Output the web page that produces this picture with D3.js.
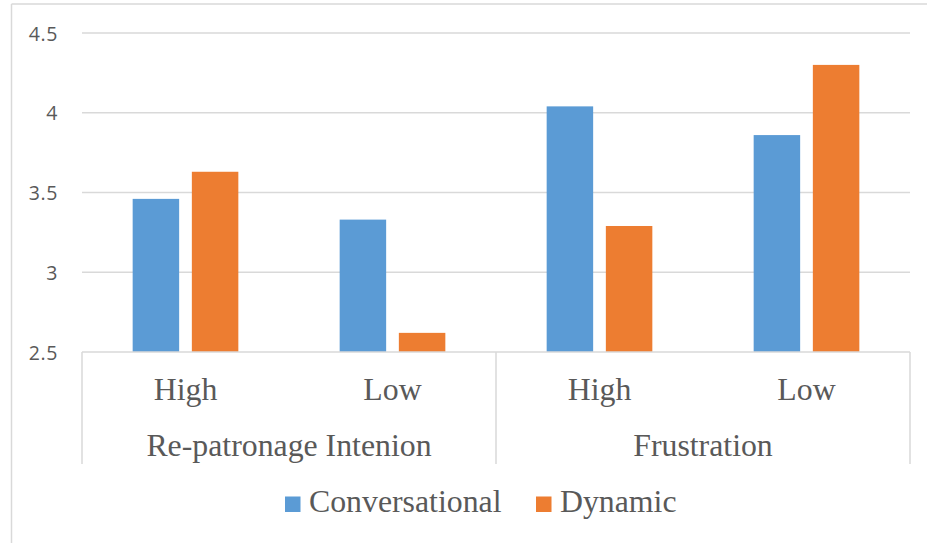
<!DOCTYPE html>
<html>
<head>
<meta charset="utf-8">
<script src="https://cdn.jsdelivr.net/npm/d3@7"></script>
<style>
  html, body { margin: 0; padding: 0; background: #fff; }
  svg { display: block; }
</style>
</head>
<body>
<svg id="chart" width="927" height="543"></svg>
<script>
// Two-level categories: measure (outer) and level (inner)
const groups = ["Re-patronage Intenion", "Frustration"];
const levels = ["High", "Low"];
const seriesNames = ["Conversational", "Dynamic"];
const conversational = [3.46, 3.33, 4.04, 3.86];
const dynamic = [3.63, 2.62, 3.29, 4.30];
const yTicks = [2.5, 3, 3.5, 4, 4.5];
const colors = ["#5B9BD5", "#ED7D31"];

const W = 927, H = 543;
const plot = { left: 82, right: 910, top: 33, bottom: 352 };
const textColor = "#595959";
const gridColor = "#D9D9D9";

const svg = d3.select("#chart");

// Chart frame (extends past the right and bottom edges)
svg.append("line").attr("x1", 11.5).attr("x2", 11.5).attr("y1", 4).attr("y2", H + 2)
  .attr("stroke", gridColor).attr("stroke-width", 1.5);
svg.append("line").attr("x1", 11.5).attr("x2", W + 2).attr("y1", 4).attr("y2", 4)
  .attr("stroke", gridColor).attr("stroke-width", 1.5);

// Leaf categories: each group crossed with each level
const leaves = [];
groups.forEach((g, gi) => levels.forEach((l, li) => leaves.push({ group: g, level: l, key: gi + "-" + li })));

const x0 = d3.scaleBand().domain(leaves.map(d => d.key)).range([plot.left, plot.right]).padding(0);
const x1 = d3.scaleBand().domain(seriesNames).range([0, x0.bandwidth()])
  .paddingInner(0.2145).paddingOuter(0.856);
const y = d3.scaleLinear().domain([2.5, 4.5]).range([plot.bottom, plot.top]);

// Gridlines
svg.append("g").selectAll("line").data(yTicks.filter(t => t > 2.5)).join("line")
  .attr("x1", plot.left).attr("x2", plot.right)
  .attr("y1", d => y(d)).attr("y2", d => y(d))
  .attr("stroke", gridColor).attr("stroke-width", 1.5);

// Y axis labels
const yAxis = d3.axisLeft(y).tickValues(yTicks).tickSize(0).tickPadding(0)
  .tickFormat(d => String(d));
const yg = svg.append("g").attr("transform", `translate(${plot.left - 24},0)`).call(yAxis);
yg.select(".domain").remove();
yg.selectAll("text")
  .attr("fill", textColor)
  .attr("dy", "0.36em")
  .style("font-family", "'Open Sans', sans-serif")
  .style("font-size", "19.5px")
  .style("letter-spacing", "0.6px");

// Bars
const seriesValues = [conversational, dynamic];
const barRows = [];
leaves.forEach((leaf, i) => seriesNames.forEach((s, si) => barRows.push({ leaf, s, si, v: seriesValues[si][i] })));

svg.append("g").selectAll("rect").data(barRows).join("rect")
  .attr("x", d => x0(d.leaf.key) + x1(d.s))
  .attr("width", x1.bandwidth())
  .attr("y", d => y(d.v))
  .attr("height", d => y(2.5) - y(d.v))
  .attr("fill", d => colors[d.si]);

// Category axis baseline
svg.append("line").attr("x1", plot.left).attr("x2", plot.right)
  .attr("y1", plot.bottom).attr("y2", plot.bottom)
  .attr("stroke", gridColor).attr("stroke-width", 1.5);

// Group separators spanning both label rows
const sepBottom = 464;
const seps = [plot.left, x0(leaves[2].key), plot.right];
svg.append("g").selectAll("line").data(seps).join("line")
  .attr("x1", d => d).attr("x2", d => d)
  .attr("y1", plot.bottom).attr("y2", sepBottom)
  .attr("stroke", gridColor).attr("stroke-width", 1.5);

const serif = "'Liberation Serif', 'Times New Roman', serif";

// Inner category labels
svg.append("g").selectAll("text").data(leaves).join("text")
  .attr("x", d => x0(d.key) + x0.bandwidth() / 2)
  .attr("y", 400)
  .attr("text-anchor", "middle")
  .attr("fill", textColor)
  .style("font-family", serif)
  .style("font-size", "31.8px")
  .text(d => d.level);

// Outer group labels
svg.append("g").selectAll("text").data(groups).join("text")
  .attr("x", (d, i) => x0(leaves[i * 2].key) + x0.bandwidth())
  .attr("y", 455.5)
  .attr("text-anchor", "middle")
  .attr("fill", textColor)
  .style("font-family", serif)
  .style("font-size", "31.8px")
  .text(d => d);

// Legend
const legendX = [285, 536];
const lg = svg.append("g").selectAll("g").data(seriesNames).join("g")
  .attr("transform", (d, i) => `translate(${legendX[i]},496.5)`);
lg.append("rect").attr("width", 15.5).attr("height", 15.5).attr("fill", (d, i) => colors[i]);
lg.append("text")
  .attr("x", 24).attr("y", 15.5)
  .attr("fill", textColor)
  .style("font-family", serif)
  .style("font-size", "31.8px")
  .text(d => d);
</script>
</body>
</html>
